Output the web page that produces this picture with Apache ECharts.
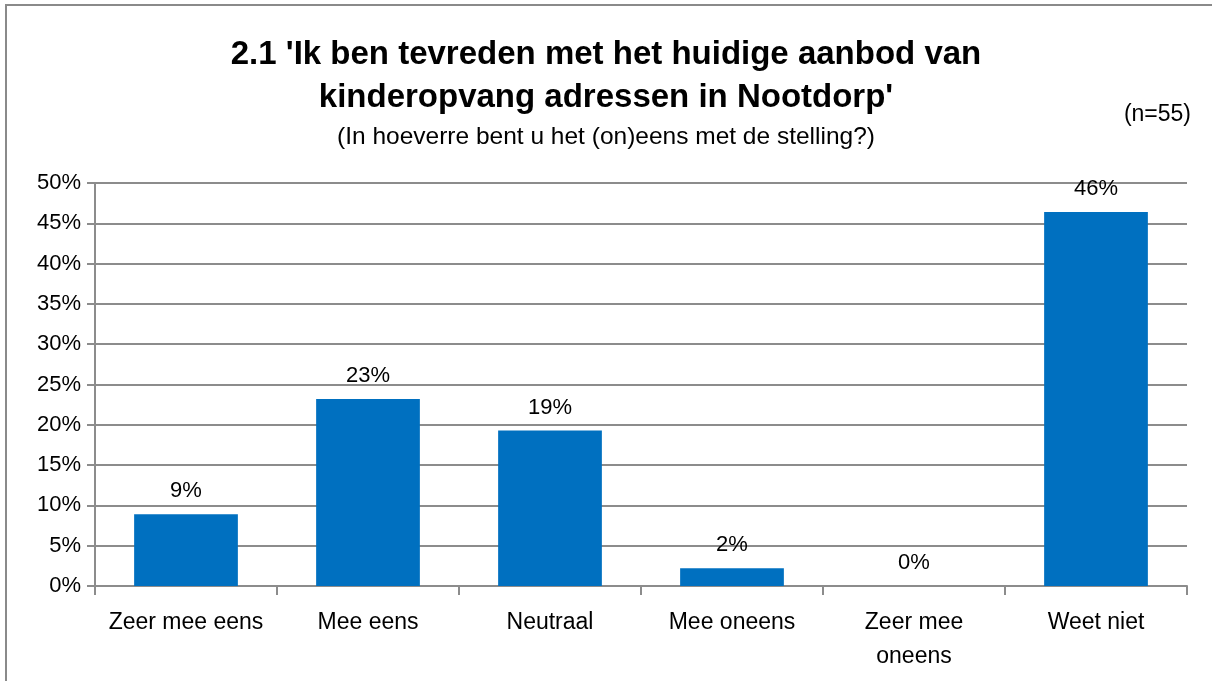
<!DOCTYPE html>
<html>
<head>
<meta charset="utf-8">
<script src="https://cdn.jsdelivr.net/npm/echarts@6/dist/echarts.min.js"></script>
<style>
html,body{margin:0;padding:0;background:#fff;}
#main{width:1212px;height:681px;}
</style>
</head>
<body>
<div id="main"></div>
<script>
const categories = ['Zeer mee eens', 'Mee eens', 'Neutraal', 'Mee oneens', 'Zeer mee\noneens', 'Weet niet'];
const values = [8.9, 23.2, 19.3, 2.2, 0, 46.4];
const valueLabels = ['9%', '23%', '19%', '2%', '0%', '46%'];
const titleText = "2.1 'Ik ben tevreden met het huidige aanbod van\nkinderopvang adressen in Nootdorp'";
const subtitleText = '(In hoeverre bent u het (on)eens met de stelling?)';
const nText = '(n=55)';

const FONT = '"Liberation Sans", Arial, sans-serif';
const chart = echarts.init(document.getElementById('main'));
chart.setOption({
  backgroundColor: '#fff',
  animation: false,
  title: [{
    text: titleText,
    left: 'center',
    top: 28,
    textStyle: {fontFamily: FONT, fontSize: 33, fontWeight: 'bold', color: '#000', lineHeight: 43}
  }, {
    text: subtitleText,
    left: 'center',
    top: 120,
    textStyle: {fontFamily: FONT, fontSize: 24.5, fontWeight: 'normal', color: '#000'}
  }, {
    text: nText,
    right: 16,
    top: 98,
    textStyle: {fontFamily: FONT, fontSize: 23, fontWeight: 'normal', color: '#000'}
  }],
  graphic: [{
    type: 'rect',
    shape: {x: 6, y: 5, width: 1300, height: 800},
    style: {fill: 'none', stroke: '#8a8a8a', lineWidth: 2}
  }],
  grid: {left: 95, right: 25, top: 183, bottom: 95, containLabel: false},
  xAxis: {
    type: 'category',
    data: categories,
    boundaryGap: true,
    axisLine: {show: true, lineStyle: {color: '#8c8c8c', width: 2}},
    axisTick: {show: true, length: 9, lineStyle: {color: '#8c8c8c', width: 2}},
    axisLabel: {fontFamily: FONT, fontSize: 23, color: '#000', margin: 20, lineHeight: 34, interval: 0}
  },
  yAxis: {
    type: 'value',
    min: 0, max: 50, interval: 5,
    axisLine: {show: true, lineStyle: {color: '#8c8c8c', width: 2}},
    axisTick: {show: true, length: 8, lineStyle: {color: '#8c8c8c', width: 2}},
    splitLine: {show: true, lineStyle: {color: '#8c8c8c', width: 2}},
    axisLabel: {fontFamily: FONT, fontSize: 22, color: '#000', margin: 14, formatter: v => v + '%'}
  },
  series: [{
    type: 'bar',
    data: values,
    barWidth: '57%',
    itemStyle: {color: '#0070C0'},
    label: {
      show: true,
      position: 'top',
      distance: 12,
      fontFamily: FONT,
      fontSize: 22,
      color: '#000',
      formatter: p => valueLabels[p.dataIndex]
    }
  }]
});
</script>
</body>
</html>
